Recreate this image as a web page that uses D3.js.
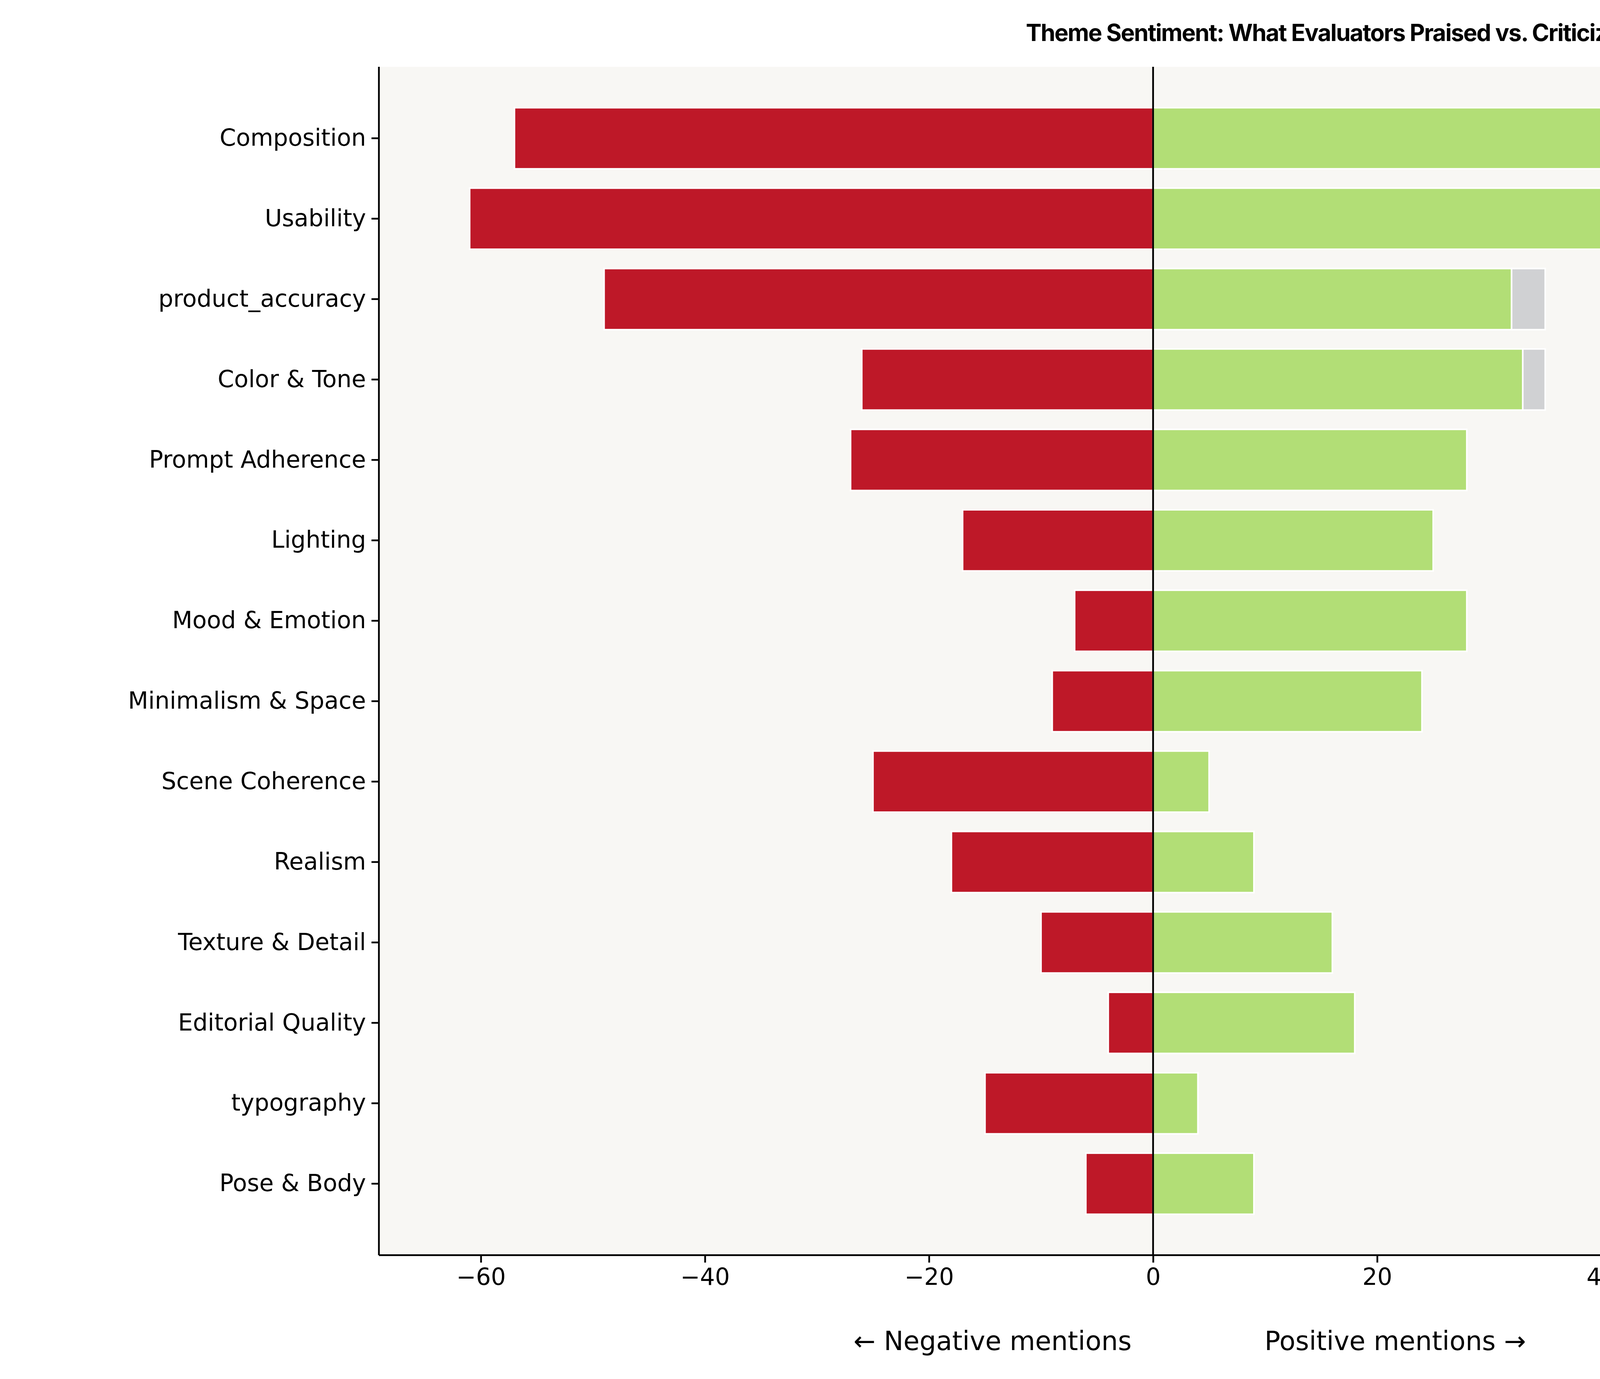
<!DOCTYPE html>
<html><head><meta charset="utf-8">
<script src="https://cdn.jsdelivr.net/npm/d3@7"></script>
<style>body{margin:0;background:#fff}</style>
</head><body>
<script>
var themes = ["Composition","Usability","product_accuracy","Color & Tone","Prompt Adherence","Lighting","Mood & Emotion","Minimalism & Space","Scene Coherence","Realism","Texture & Detail","Editorial Quality","typography","Pose & Body"];
var positive = [100,61,32,33,28,25,28,24,5,9,16,18,4,9];
var negative = [57,61,49,26,27,17,7,9,25,18,10,4,15,6];
var neutral  = [0,3,3,2,0,0,0,0,0,0,0,0,0,0];
var xTicks = [-60,-40,-20,0,20,40,60,80,100];

var W = 5942, H = 3530;
var mL = 970, mR = 5820, mT = 171, mB = 3213;

var svg = d3.select("body").append("svg").attr("width", W).attr("height", H)
  .style("font-family", "DejaVu Sans");

var x = d3.scaleLinear().domain([-69.1, 100]).range([mL, mR]);
var y = d3.scaleBand().domain(themes).range([mT + 80, mB - 80]).paddingInner(0.24).paddingOuter(0.12);

svg.append("rect").attr("x", mL).attr("y", mT).attr("width", mR - mL).attr("height", mB - mT).attr("fill", "#f8f7f4");
svg.append("clipPath").attr("id", "c").append("rect").attr("x", mL).attr("y", mT).attr("width", mR - mL).attr("height", mB - mT);

var g = svg.append("g").attr("clip-path", "url(#c)");
g.selectAll(".neg").data(themes).enter().append("rect")
  .attr("x", function(d,i){return x(-negative[i]);}).attr("y", function(d){return y(d);})
  .attr("width", function(d,i){return x(0) - x(-negative[i]);}).attr("height", y.bandwidth())
  .attr("fill", "#be1828").attr("stroke", "#fff").attr("stroke-width", 4);
g.selectAll(".pos").data(themes).enter().append("rect")
  .attr("x", x(0)).attr("y", function(d){return y(d);})
  .attr("width", function(d,i){return x(positive[i]) - x(0);}).attr("height", y.bandwidth())
  .attr("fill", "#b2de76").attr("stroke", "#fff").attr("stroke-width", 4);
g.selectAll(".neu").data(themes.filter(function(d,i){return neutral[i] > 0;})).enter().append("rect")
  .attr("x", function(d){var i = themes.indexOf(d); return x(positive[i]);})
  .attr("y", function(d){return y(d);})
  .attr("width", function(d){var i = themes.indexOf(d); return x(positive[i] + neutral[i]) - x(positive[i]);})
  .attr("height", y.bandwidth())
  .attr("fill", "#d0d1d3").attr("stroke", "#fff").attr("stroke-width", 4);

svg.append("line").attr("x1", x(0)).attr("x2", x(0)).attr("y1", mT).attr("y2", mB).attr("stroke", "#000").attr("stroke-width", 4.5);

var xa = svg.append("g").attr("transform", "translate(0," + mB + ")")
  .call(d3.axisBottom(x).tickValues(xTicks).tickSize(19).tickPadding(14).tickFormat(function(d){return d < 0 ? "\u2212" + (-d) : d;}));
var ya = svg.append("g").attr("transform", "translate(" + mL + ",0)")
  .call(d3.axisLeft(y).tickSize(19).tickPadding(14));
[xa, ya].forEach(function(a){
  a.select(".domain").remove();
  a.selectAll("line").attr("stroke-width", 4.5);
  a.selectAll("text").attr("font-size", 60).attr("font-family", "DejaVu Sans").attr("fill", "#000");
});
svg.append("line").attr("x1", mL).attr("x2", mL).attr("y1", mT).attr("y2", mB).attr("stroke", "#000").attr("stroke-width", 4.5);
svg.append("line").attr("x1", mL).attr("x2", mR).attr("y1", mB).attr("y2", mB).attr("stroke", "#000").attr("stroke-width", 4.5);

svg.append("text").attr("x", x(0) - 55).attr("y", 3456).attr("text-anchor", "end").attr("font-size", 67).text("\u2190 Negative mentions");
svg.append("text").attr("x", x(0) + 620).attr("y", 3456).attr("text-anchor", "middle").attr("font-size", 67).text("Positive mentions \u2192");

svg.append("text").attr("x", 3405).attr("y", 105).attr("text-anchor", "middle").attr("font-size", 60)
  .attr("font-weight", "bold").attr("font-family", "Inter").attr("letter-spacing", -2)
  .text("Theme Sentiment: What Evaluators Praised vs. Criticized");

var legNames = ["Positive","Negative","Neutral"], legColors = ["#b2de76","#be1828","#d0d1d3"];
var lg = svg.append("g").attr("transform", "translate(5114,2785)");
lg.append("rect").attr("width", 678).attr("height", 398).attr("rx", 12).attr("fill", "#f8f7f4").attr("stroke", "#ccc").attr("stroke-width", 4);
legNames.forEach(function(n, i){
  lg.append("rect").attr("x", 38).attr("y", 48 + i*124).attr("width", 160).attr("height", 58).attr("fill", legColors[i]);
  lg.append("text").attr("x", 266).attr("y", 97 + i*124).attr("font-size", 60).text(n);
});
</script>
</body></html>
